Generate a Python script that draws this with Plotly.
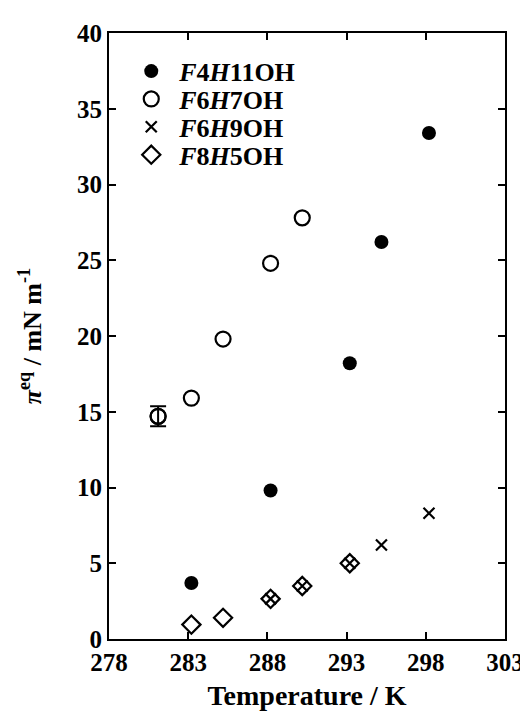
import plotly.graph_objects as go

# Data
f4h11_T = [283.2, 288.2, 293.2, 295.2, 298.2]
f4h11_pi = [3.7, 9.8, 18.2, 26.2, 33.4]

f6h7_T = [281.1, 283.2, 285.2, 288.2, 290.2]
f6h7_pi = [14.7, 15.9, 19.8, 24.8, 27.8]

# error bar (only on the first F6H7OH point)
f6h7_err_T = [281.1]
f6h7_err_pi = [14.7]
f6h7_err = [0.66]

f6h9_T = [288.2, 290.2, 293.2, 295.2, 298.2]
f6h9_pi = [2.65, 3.5, 5.0, 6.2, 8.3]

f8h5_T = [283.2, 285.2, 288.2, 290.2, 293.2]
f8h5_pi = [0.95, 1.4, 2.65, 3.5, 5.0]

x_ticks = [278, 283, 288, 293, 298, 303]
y_ticks = [0, 5, 10, 15, 20, 25, 30, 35, 40]

FONT = "Liberation Serif, Times New Roman, serif"

fig = go.Figure()
fig.add_trace(go.Scatter(
    x=f6h7_err_T, y=f6h7_err_pi, mode="markers", showlegend=False, hoverinfo="skip",
    error_y=dict(type="data", array=f6h7_err, visible=True, color="black", thickness=2, width=8),
    marker=dict(symbol="circle-open", size=15, color="black", line=dict(width=2.2))))
fig.add_trace(go.Scatter(
    x=f4h11_T, y=f4h11_pi, mode="markers", name="<b><i>F</i>4<i>H</i>11OH</b>", legend="legend",
    marker=dict(symbol="circle", size=14, color="black", line=dict(width=0))))
fig.add_trace(go.Scatter(
    x=f6h7_T, y=f6h7_pi, mode="markers", name="<b><i>F</i>6<i>H</i>7OH</b>", legend="legend2",
    marker=dict(symbol="circle-open", size=15, color="black", line=dict(width=2.2))))
fig.add_trace(go.Scatter(
    x=f6h9_T, y=f6h9_pi, mode="markers", name="<b><i>F</i>6<i>H</i>9OH</b>", legend="legend3",
    marker=dict(symbol="x-thin-open", size=11, color="black", line=dict(width=2.2, color="black"))))
fig.add_trace(go.Scatter(
    x=f8h5_T, y=f8h5_pi, mode="markers", name="<b><i>F</i>8<i>H</i>5OH</b>", legend="legend4",
    marker=dict(symbol="diamond-open", size=14, color="black", line=dict(width=2.2))))

axis_common = dict(
    showline=True, linecolor="black", linewidth=2, mirror="allticks",
    ticks="inside", ticklen=7, tickwidth=2, tickcolor="black",
    showgrid=False, zeroline=False,
    tickfont=dict(family=FONT, size=25, color="black", weight="bold"),
)

fig.update_xaxes(
    range=[278, 303], tickvals=x_ticks, ticktext=[str(v) for v in x_ticks],
    title=dict(text="<b>Temperature / K</b>", font=dict(family=FONT, size=28, color="black"), standoff=10),
    **axis_common)
fig.update_yaxes(
    range=[0, 40], tickvals=y_ticks, ticktext=[str(v) for v in y_ticks],
    **axis_common)

fig.add_annotation(
    text="<b><i>π</i><sup>eq</sup> / mN m<sup>-1</sup></b>",
    xref="paper", yref="paper", x=-0.198, y=0.499, xanchor="center", yanchor="middle",
    textangle=-90, showarrow=False,
    font=dict(family=FONT, size=26, color="black"))

leg_font = dict(family=FONT, size=26, color="black")
leg_common = dict(x=0.036, xanchor="left", yanchor="middle", bgcolor="rgba(0,0,0,0)",
                  itemwidth=46, font=leg_font)

fig.update_layout(
    width=528, height=713,
    margin=dict(l=101, r=22, t=24, b=82),
    paper_bgcolor="white", plot_bgcolor="white",
    showlegend=True,
    legend=dict(y=0.937, **leg_common),
    legend2=dict(y=0.891, **leg_common),
    legend3=dict(y=0.845, **leg_common),
    legend4=dict(y=0.799, **leg_common),
)

fig.write_html("out.html")
